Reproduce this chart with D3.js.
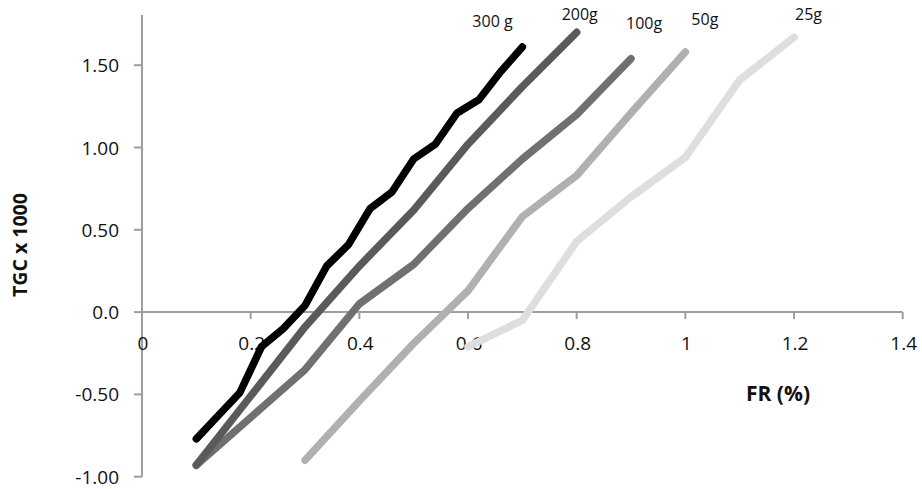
<!DOCTYPE html>
<html>
<head>
<meta charset="utf-8">
<script src="https://cdn.jsdelivr.net/npm/d3@7"></script>
<style>
  html, body { margin: 0; padding: 0; background: #fff; }
  svg { display: block; font-family: "Open Sans", "Liberation Sans", sans-serif; }
</style>
</head>
<body>
<svg id="chart" width="922" height="489"></svg>
<script>
// Feeding rate (FR, %) and thermal growth coefficient (TGC x 1000) per fish size
const seriesNames = ["25g", "50g", "100g", "200g", "300 g"];

const fr25  = [0.6, 0.7, 0.8, 0.9, 1.0, 1.1, 1.2];
const tgc25 = [-0.21, -0.05, 0.43, 0.70, 0.94, 1.41, 1.67];

const fr50  = [0.3, 0.4, 0.5, 0.6, 0.7, 0.8, 0.9, 1.0];
const tgc50 = [-0.90, -0.54, -0.19, 0.13, 0.58, 0.83, 1.21, 1.58];

const fr100  = [0.1, 0.2, 0.3, 0.4, 0.5, 0.6, 0.7, 0.8, 0.9];
const tgc100 = [-0.93, -0.64, -0.35, 0.05, 0.29, 0.63, 0.93, 1.20, 1.54];

const fr200  = [0.1, 0.2, 0.3, 0.4, 0.5, 0.6, 0.7, 0.8];
const tgc200 = [-0.93, -0.51, -0.09, 0.28, 0.62, 1.02, 1.37, 1.70];

const fr300  = [0.10, 0.14, 0.18, 0.22, 0.26, 0.30, 0.34, 0.38, 0.42, 0.46, 0.50, 0.54, 0.58, 0.62, 0.66, 0.70];
const tgc300 = [-0.77, -0.63, -0.49, -0.21, -0.10, 0.04, 0.28, 0.41, 0.63, 0.73, 0.93, 1.02, 1.21, 1.29, 1.46, 1.61];

const xTicks = [0.2, 0.4, 0.6, 0.8, 1.0, 1.2, 1.4];
const xTickLabels = ["0.2", "0.4", "0.6", "0.8", "1", "1.2", "1.4"];
const yTicks = [-1.0, -0.5, 0.0, 0.5, 1.0, 1.5];
const yTickLabels = ["-1.00", "-0.50", "0.0", "0.50", "1.00", "1.50"];

// Styling per series (drawing order: lightest first, black on top)
const seriesColors = ["#dedede", "#b0b0b0", "#707070", "#5a5a5a", "#000000"];
// Label offset from each series' last point, in pixels
const labelOffsets = [[1, -17], [6, -27], [-5, -30], [-15, -12], [-50, -20]];

const seriesX = [fr25, fr50, fr100, fr200, fr300];
const seriesY = [tgc25, tgc50, tgc100, tgc200, tgc300];
const series = seriesNames.map((name, i) => ({
  name,
  color: seriesColors[i],
  offset: labelOffsets[i],
  points: seriesX[i].map((x, j) => ({ x, y: seriesY[i][j] }))
}));

const svg = d3.select("#chart");
const axisColor = "#9e9e9e";

const x = d3.scaleLinear().domain([0, 1.4]).range([142, 902.7]);
const y = d3.scaleLinear().domain([-1.0, 1.805]).range([476.7, 15]);

// Vertical axis with left ticks
const yAxis = svg.append("g");
yAxis.append("line")
  .attr("x1", x(0)).attr("x2", x(0))
  .attr("y1", y(1.805)).attr("y2", y(-1.0))
  .attr("stroke", axisColor).attr("stroke-width", 2);
yAxis.selectAll("line.tick").data(yTicks).join("line")
  .attr("class", "tick")
  .attr("x1", x(0) - 8).attr("x2", x(0))
  .attr("y1", d => y(d)).attr("y2", d => y(d))
  .attr("stroke", axisColor).attr("stroke-width", 2);
yAxis.selectAll("text").data(yTicks).join("text")
  .attr("x", 119)
  .attr("y", d => y(d) + 7)
  .attr("text-anchor", "end")
  .attr("font-size", 19)
  .attr("fill", "#111")
  .text((d, i) => yTickLabels[i]);

// Horizontal axis through zero with downward ticks
const xAxis = svg.append("g");
xAxis.append("line")
  .attr("x1", x(0)).attr("x2", x(1.4))
  .attr("y1", y(0)).attr("y2", y(0))
  .attr("stroke", axisColor).attr("stroke-width", 2);
xAxis.selectAll("line.tick").data(xTicks).join("line")
  .attr("class", "tick")
  .attr("x1", d => x(d)).attr("x2", d => x(d))
  .attr("y1", y(0)).attr("y2", y(0) + 7)
  .attr("stroke", axisColor).attr("stroke-width", 2);
xAxis.selectAll("text").data([0].concat(xTicks)).join("text")
  .attr("x", d => x(d) + 1)
  .attr("y", y(0) + 38)
  .attr("text-anchor", "middle")
  .attr("font-size", 19)
  .attr("fill", "#111")
  .text((d, i) => i === 0 ? "0" : xTickLabels[i - 1]);

// Axis titles
svg.append("text")
  .attr("transform", `translate(26.5, 245) rotate(-90)`)
  .attr("text-anchor", "middle")
  .attr("font-size", 19.5)
  .attr("font-weight", "bold")
  .attr("fill", "#111")
  .text("TGC x 1000");

svg.append("text")
  .attr("x", 778)
  .attr("y", 401)
  .attr("text-anchor", "middle")
  .attr("font-size", 21)
  .attr("font-weight", "bold")
  .attr("fill", "#111")
  .text("FR (%)");

// Series lines
const line = d3.line().x(d => x(d.x)).y(d => y(d.y));
svg.append("g").selectAll("path").data(series).join("path")
  .attr("d", d => line(d.points))
  .attr("fill", "none")
  .attr("stroke", d => d.color)
  .attr("stroke-width", 7.5)
  .attr("stroke-linecap", "round")
  .attr("stroke-linejoin", "round");

// Series labels near the end of each line
svg.append("g").selectAll("text").data(series).join("text")
  .attr("x", d => x(d.points[d.points.length - 1].x) + d.offset[0])
  .attr("y", d => y(d.points[d.points.length - 1].y) + d.offset[1])
  .attr("font-size", 16)
  .attr("fill", "#111")
  .text(d => d.name);
</script>
</body>
</html>
